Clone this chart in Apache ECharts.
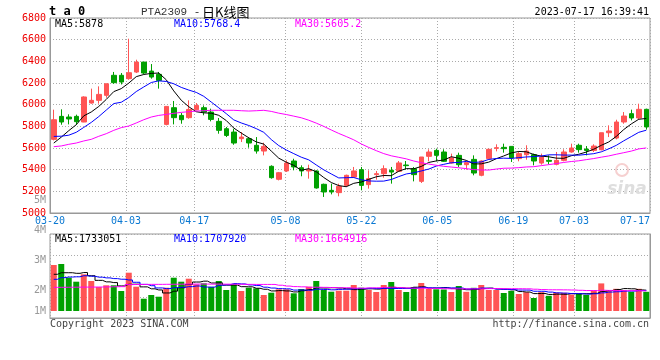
<!DOCTYPE html>
<html><head><meta charset="utf-8">
<script src="https://cdn.jsdelivr.net/npm/echarts@6/dist/echarts.min.js"></script>
<style>html,body{margin:0;padding:0;background:#fff}#c{width:660px;height:360px}</style>
</head><body><div id="c"></div>
<script>
const dates = ['03-20','03-21','03-22','03-23','03-24','03-27','03-28','03-29','03-30','03-31',
'04-03','04-04','04-06','04-07','04-10','04-11','04-12','04-13','04-14','04-17','04-18','04-19','04-20','04-21','04-24','04-25','04-26','04-27','04-28',
'05-04','05-05','05-08','05-09','05-10','05-11','05-12','05-15','05-16','05-17','05-18','05-19','05-22','05-23','05-24','05-25','05-26','05-29','05-30','05-31',
'06-01','06-02','06-05','06-06','06-07','06-08','06-09','06-12','06-13','06-14','06-15','06-16','06-19','06-20','06-21','06-26','06-27','06-28','06-29','06-30',
'07-03','07-04','07-05','07-06','07-07','07-10','07-11','07-12','07-13','07-14','07-17'];
const axisDates = ['03-20','04-03','04-17','05-08','05-22','06-05','06-19','07-03','07-17'];
const priceTicks = [5000,5200,5400,5600,5800,6000,6200,6400,6600,6800];
const volTickLabels = ['5M','4M','3M','2M','1M'];

const openPrices = [5680,5892,5886,5892,5840,6015,6040,6086,6271,6271,
6240,6301,6393,6310,6280,5818,5972,5901,5880,5953,
5972,5932,5846,5778,5747,5686,5686,5625,5572,5431,
5311,5388,5480,5418,5388,5388,5265,5209,5188,5255,
5332,5400,5262,5354,5363,5394,5385,5443,5409,5292,
5523,5578,5563,5461,5532,5446,5495,5348,5502,5597,
5606,5615,5502,5538,5538,5461,5486,5449,5486,5563,
5625,5590,5578,5584,5741,5692,5840,5917,5877,5957];
const closePrices = [5861,5840,5868,5843,6071,6040,6095,6193,6203,6209,
6295,6393,6292,6255,6224,5984,5880,5861,5956,5993,
5932,5864,5763,5716,5646,5701,5646,5572,5615,5326,
5372,5461,5425,5388,5400,5231,5194,5194,5246,5348,
5388,5255,5317,5363,5409,5378,5462,5437,5354,5517,
5563,5532,5477,5508,5446,5465,5369,5480,5588,5603,
5594,5508,5548,5572,5480,5517,5477,5486,5563,5600,
5585,5578,5618,5741,5757,5840,5895,5877,5957,5794];
const lowPrices = [5670,5815,5818,5815,5838,6009,6009,6064,6193,6187,
6230,6292,6280,6240,6148,5809,5818,5824,5870,5947,
5902,5846,5732,5701,5630,5655,5603,5548,5532,5317,
5301,5379,5394,5339,5317,5225,5148,5172,5154,5240,
5326,5209,5225,5308,5326,5271,5380,5400,5292,5277,
5477,5477,5471,5455,5425,5400,5348,5339,5495,5569,
5557,5471,5477,5492,5440,5446,5449,5440,5477,5557,
5557,5532,5563,5578,5701,5680,5824,5855,5864,5770];
const highPrices = [5954,5957,5911,5908,6077,6148,6169,6193,6302,6292,
6609,6415,6393,6375,6302,5984,6034,5923,6040,6015,
5993,5963,5877,5794,5778,5747,5701,5701,5649,5440,
5379,5486,5501,5440,5446,5394,5271,5271,5271,5354,
5425,5425,5394,5388,5440,5425,5480,5480,5425,5517,
5588,5594,5588,5548,5557,5471,5532,5486,5594,5634,
5640,5615,5569,5625,5548,5548,5532,5563,5588,5640,
5640,5618,5634,5741,5809,5861,5932,5954,6009,5963];

const ma5 = [5646,5700,5760,5815,
5896.6,5932.4,5983.4,6048.4,6120.4,6148,6199,6258.6,6278.4,6288.8,
6291.8,6229.6,6127,6040.8,5981,5934.8,5924.4,5921.2,5901.6,5853.6,
5784.2,5738,5694.4,5656.2,5636,5572,5506.2,5469.2,5439.8,5394.4,
5409.2,5381,5327.6,5281.4,5253,5242.6,5274,5286.2,5310.8,5334.2,
5346.4,5344.4,5385.8,5409.8,5408,5429.6,5466.6,5480.6,5488.6,5519.4,
5505.2,5485.6,5453,5453.6,5469.6,5501,5526.8,5554.6,5568.2,5565,
5540.4,5525,5518.8,5506.4,5504.6,5528.6,5542.2,5562.4,5588.8,5624.4,
5655.8,5706.8,5770.2,5822,5865.2,5872.6];
const ma10 = [5707,5709,5718,5745,5790,5836,5890,5950,6010,
6022.3,6065.7,6121,6163.4,6204.6,6219.9,6214.3,6192.8,6159.6,6134.9,
6113.3,6077,6024.1,5971.2,5917.3,5859.5,5831.2,5807.8,5778.9,5744.8,
5678.1,5622.1,5581.8,5548,5515.2,5490.6,5443.6,5398.4,5360.6,5323.7,
5325.9,5327.5,5306.9,5296.1,5293.6,5294.5,5309.2,5336,5360.3,5371.1,
5388,5405.5,5433.2,5449.2,5463.7,5467.4,5476.1,5466.8,5471.1,5494.5,
5503.1,5506.2,5503.8,5510.9,5517.3,5520.7,5525.9,5536.7,5537.3,5534.8,
5534.5,5533.6,5540.6,5547.6,5564.5,5592.2,5624.5,5666.3,5705.4,5744.8,
5764.2];
const ma30 = [5612,5619,5634,5646,5665,5680,5708,5732,5763,5788,
5803,5831,5861,5886,5901,5910,5920,5929,5935,5941,
5944,5948,5948,5948,5948,5944,5941,5944,5948,
5937.9,5921.6,5909,5894.2,5879,5856.7,5829.7,5799.7,5766.4,5734.5,
5705.8,5675.5,5637.6,5605.1,5575.4,5548.2,5528,5514.1,5499.9,5479.9,
5464,5451.7,5440.6,5431.1,5424.2,5417.5,5409.6,5400.4,5397.3,5396.4,
5405.7,5413.1,5414.6,5418.7,5424.9,5427.5,5437.1,5446.5,5456.2,5466.8,
5475.2,5481.8,5492.5,5502.6,5515.2,5526.8,5542.2,5556.6,5571.3,5591.4,
5600.6];

const volumes = [3833000,3917000,2775000,2442000,3058000,2500000,2000000,2142000,2142000,1667000,
3192000,2025000,1025000,1333000,1192000,1942000,2775000,2442000,2692000,2225000,
2308000,2000000,2500000,1750000,2225000,1667000,1942000,1892000,1333000,1525000,
1808000,1808000,1475000,1833000,2025000,2500000,1750000,1608000,1692000,1692000,
2167000,1942000,1750000,1583000,2167000,2417000,1750000,1583000,2000000,2333000,
1833000,1808000,1792000,1583000,2083000,1600000,1933000,2167000,1750000,1750000,
1500000,1683000,1417000,1567000,1083000,1567000,1267000,1542000,1517000,1375000,
1442000,1333000,1700000,2300000,1750000,1850000,1750000,1600000,1850000,1600000];
const volMa5 = [3060000,3190000,3190000,3140000,
3205000,2938000,2555000,2428000,2368000,2090000,2229000,2234000,2010000,1848000,
1753000,1503000,1653000,1937000,2209000,2415000,2488000,2333000,2345000,2157000,
2157000,2028000,2017000,1895000,1812000,1672000,1700000,1673000,1590000,1690000,
1790000,1928000,1917000,1943000,1915000,1848000,1782000,1820000,1849000,1827000,
1922000,1972000,1933000,1900000,1983000,2017000,1900000,1911000,1953000,1870000,
1820000,1773000,1798000,1873000,1907000,1840000,1820000,1770000,1620000,1583000,
1450000,1463000,1380000,1405000,1395000,1454000,1429000,1442000,1473000,1630000,
1705000,1787000,1870000,1850000,1760000,1730000];
const volMa10 = [2640000,2780000,2830000,2850000,2940000,2900000,2820000,2760000,2700000,
2648000,2584000,2394000,2219000,2108000,1922000,1866000,1944000,1974000,2029000,
2084000,1996000,1993000,2141000,2183000,2286000,2258000,2175000,2120000,1984000,
1914000,1864000,1845000,1743000,1751000,1731000,1814000,1795000,1767000,1802000,
1819000,1855000,1868000,1896000,1871000,1885000,1877000,1877000,1874000,1905000,
1969000,1936000,1922000,1927000,1927000,1918000,1837000,1855000,1913000,1888000,
1830000,1797000,1784000,1747000,1745000,1645000,1642000,1575000,1513000,1489000,
1452000,1446000,1411000,1439000,1513000,1579000,1608000,1656000,1662000,1695000,
1718000];
const volMa30 = [1970000,1975000,1980000,1985000,1990000,1995000,2000000,2010000,2020000,2030000,
2200000,2210000,2215000,2220000,2220000,2225000,2230000,2235000,2240000,2245000,
2245000,2240000,2240000,2235000,2230000,2225000,2220000,2215000,2215000,
2215000,2148000,2078000,2034000,2014000,1980000,1980000,1971000,1953000,1938000,
1939000,1905000,1902000,1926000,1935000,1967000,1983000,1949000,1920000,1897000,
1901000,1885000,1879000,1855000,1849000,1845000,1842000,1842000,1851000,1865000,
1873000,1862000,1858000,1856000,1848000,1816000,1785000,1769000,1767000,1761000,
1750000,1726000,1706000,1704000,1728000,1714000,1695000,1695000,1696000,1691000,
1666000];

const UP = '#ff5454', DOWN = '#00a000';
const GRIDC = '#aaaaaa', BORDER = '#999999';
const MONO = '"DejaVu Sans Mono","Liberation Mono",monospace';

const candleData = dates.map((d, i) => [openPrices[i], closePrices[i], lowPrices[i], highPrices[i]]);
const volData = volumes.map((v, i) => ({ value: v, itemStyle: { color: closePrices[i] >= openPrices[i] ? UP : DOWN } }));
const isAxisDate = (idx, val) => axisDates.indexOf(val) >= 0;
const dotted = { show: true, lineStyle: { color: GRIDC, type: [1, 2], width: 1 } };

function txt(x, y, text, fill, font, align, z) {
  return { type: 'text', x: x, y: y, silent: true, z: z == null ? 100 : z,
    style: { text: text, fill: fill, font: font, textAlign: align || 'left', textVerticalAlign: 'middle', verticalAlign: 'middle' } };
}

const graphics = [
  txt(49, 12, 't a 0', '#000', 'bold 12px ' + MONO),
  txt(141, 12, 'PTA2309 -', '#333', '11px "Liberation Mono",monospace'),
  txt(202, 12, '日K线图', '#000', '13px "Noto Sans CJK SC"'),
  txt(649, 12, '2023-07-17 16:39:41', '#000', '10px ' + MONO, 'right'),
  txt(55, 24, 'MA5:5878', '#000', '10px ' + MONO),
  txt(174, 24, 'MA10:5768.4', '#0000ff', '10px ' + MONO),
  txt(295, 24, 'MA30:5605.2', '#ff00ff', '10px ' + MONO),
  txt(55, 239, 'MA5:1733051', '#000', '10px ' + MONO),
  txt(174, 239, 'MA10:1707920', '#0000ff', '10px ' + MONO),
  txt(295, 239, 'MA30:1664916', '#ff00ff', '10px ' + MONO),
  txt(50, 324, 'Copyright 2023 SINA.COM', '#444', '10px ' + MONO),
  txt(649, 324, 'http://finance.sina.com.cn', '#444', '10px ' + MONO, 'right'),
  { type: 'circle', shape: { cx: 622, cy: 170, r: 6 }, style: { fill: 'none', stroke: '#f6d0d0', lineWidth: 2 }, silent: true, z: 1 },
  txt(627, 190, 'sina', '#dedede', 'italic bold 17px "DejaVu Sans",sans-serif', 'center', 1)
];
const volLabelY = [200, 230, 260, 290, 311];
volTickLabels.forEach((t, i) => graphics.push(txt(46, volLabelY[i], t, '#999', '10px ' + MONO, 'right')));

const chart = echarts.init(document.getElementById('c'), null, { renderer: 'canvas' });
chart.setOption({
  animation: false,
  backgroundColor: '#fff',
  grid: [
    { left: 50, right: 10, top: 18, height: 195, show: true, borderColor: BORDER, borderWidth: 1, backgroundColor: 'transparent' },
    { left: 50, right: 10, top: 234, height: 84, show: true, borderColor: BORDER, borderWidth: 1, backgroundColor: 'transparent' }
  ],
  xAxis: [
    { type: 'category', gridIndex: 0, data: dates, boundaryGap: true, show: false },
    { type: 'category', gridIndex: 0, data: dates, boundaryGap: false, position: 'bottom',
      axisLine: { show: true, onZero: false, lineStyle: { color: BORDER } }, axisTick: { show: false },
      axisLabel: { interval: isAxisDate, color: '#0a78d2', fontSize: 10, fontFamily: MONO, margin: 3, alignMaxLabel: 'right' },
      splitLine: Object.assign({ interval: isAxisDate }, dotted) },
    { type: 'category', gridIndex: 1, data: dates, boundaryGap: true, show: false },
    { type: 'category', gridIndex: 1, data: dates, boundaryGap: false, position: 'bottom',
      axisLine: { show: true, onZero: false, lineStyle: { color: BORDER } }, axisTick: { show: false },
      axisLabel: { show: false }, splitLine: Object.assign({ interval: isAxisDate }, dotted) }
  ],
  yAxis: [
    { type: 'value', gridIndex: 0, min: priceTicks[0], max: priceTicks[priceTicks.length - 1], interval: 200,
      axisLine: { show: true, lineStyle: { color: BORDER } }, axisTick: { show: false },
      axisLabel: { color: '#ee0000', fontSize: 10, fontFamily: MONO, margin: 4, padding: [0, 0, 4, 0],
        formatter: (v) => String(v) },
      splitLine: dotted },
    { type: 'value', gridIndex: 1, min: -583000, max: 6417000, show: false, splitLine: { show: false } },
    { type: 'value', gridIndex: 1, min: 0, max: 4, interval: 1,
      axisLine: { show: true, lineStyle: { color: BORDER } }, axisTick: { show: false },
      axisLabel: { show: false }, splitLine: dotted }
  ],
  graphic: graphics,
  series: [
    { type: 'candlestick', xAxisIndex: 0, yAxisIndex: 0, data: candleData, barWidth: 5,
      itemStyle: { color: UP, color0: DOWN, borderColor: UP, borderColor0: DOWN, borderWidth: 1 } },
    { type: 'line', xAxisIndex: 0, yAxisIndex: 0, data: ma5, symbol: 'none', lineStyle: { color: '#000', width: 1 }, z: 5 },
    { type: 'line', xAxisIndex: 0, yAxisIndex: 0, data: ma10, symbol: 'none', lineStyle: { color: '#0000ff', width: 1 }, z: 5 },
    { type: 'line', xAxisIndex: 0, yAxisIndex: 0, data: ma30, symbol: 'none', lineStyle: { color: '#ff00ff', width: 1 }, z: 5 },
    { type: 'bar', xAxisIndex: 2, yAxisIndex: 1, data: volData, barWidth: 6 },
    { type: 'line', xAxisIndex: 2, yAxisIndex: 1, data: volMa5, symbol: 'none', step: 'middle', lineStyle: { color: '#000', width: 1 }, z: 5 },
    { type: 'line', xAxisIndex: 2, yAxisIndex: 1, data: volMa10, symbol: 'none', step: 'middle', lineStyle: { color: '#0000ff', width: 1 }, z: 5 },
    { type: 'line', xAxisIndex: 2, yAxisIndex: 1, data: volMa30, symbol: 'none', step: 'middle', lineStyle: { color: '#ff00ff', width: 1 }, z: 5 }
  ]
});
</script></body></html>
